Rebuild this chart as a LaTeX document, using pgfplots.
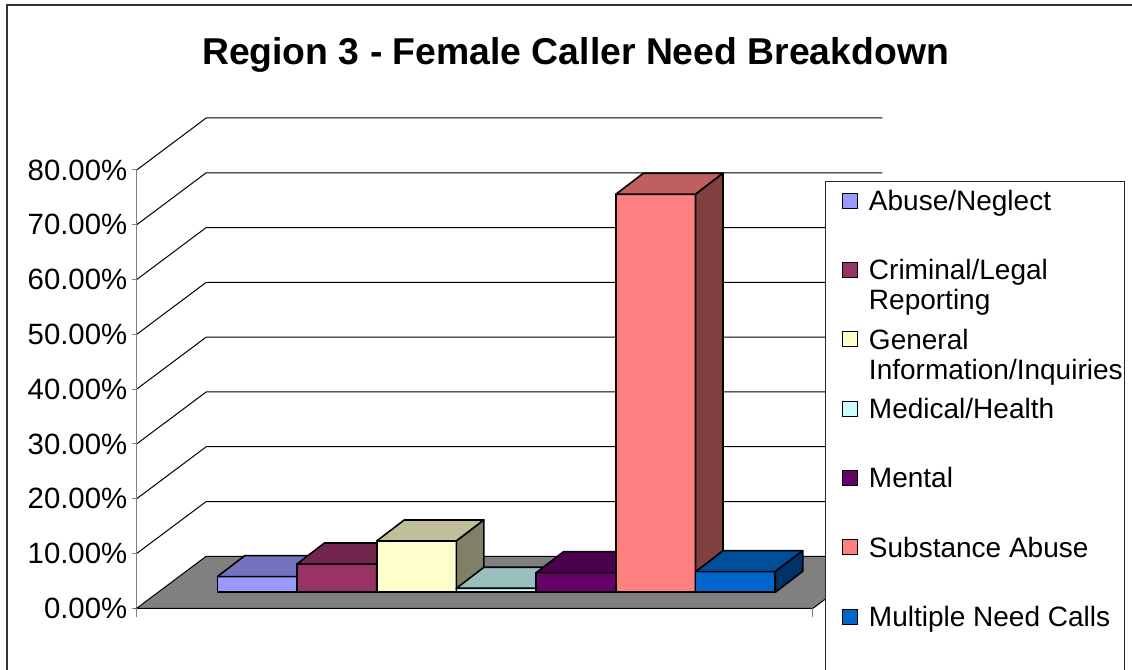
\documentclass[border=0pt]{standalone}
\usepackage{pgfplots}
\pgfplotsset{compat=1.18}
\usepackage{fontspec}
\setmainfont{Liberation Sans}
\definecolor{abF}{RGB}{153,153,255}
\definecolor{abT}{RGB}{115,115,191}
\definecolor{abS}{RGB}{77,77,128}
\definecolor{crF}{RGB}{153,51,102}
\definecolor{crT}{RGB}{115,38,77}
\definecolor{crS}{RGB}{77,26,51}
\definecolor{geF}{RGB}{255,255,204}
\definecolor{geT}{RGB}{191,191,153}
\definecolor{geS}{RGB}{128,128,102}
\definecolor{meF}{RGB}{204,255,255}
\definecolor{meT}{RGB}{153,191,191}
\definecolor{meS}{RGB}{102,128,128}
\definecolor{mnF}{RGB}{102,0,102}
\definecolor{mnT}{RGB}{77,0,77}
\definecolor{mnS}{RGB}{51,0,51}
\definecolor{suF}{RGB}{255,128,128}
\definecolor{suT}{RGB}{191,96,96}
\definecolor{suS}{RGB}{128,64,64}
\definecolor{muF}{RGB}{0,102,204}
\definecolor{muT}{RGB}{0,77,153}
\definecolor{muS}{RGB}{0,51,102}
\definecolor{floorgray}{RGB}{128,128,128}
% bar baseline (depth offset of bar front), bar depth offsets
\newcommand{\vz}{2.92}
\newcommand{\du}{0.345}
\newcommand{\dv}{3.833}
% #1 index, #2 value, #3 front colour, #4 top colour, #5 side colour
\newcommand{\barbox}[5]{%
  \pgfmathsetmacro{\xa}{#1}%
  \pgfmathsetmacro{\xb}{#1+1}%
  \pgfmathsetmacro{\xc}{#1+1+\du}%
  \pgfmathsetmacro{\xd}{#1+\du}%
  \pgfmathsetmacro{\ya}{\vz}%
  \pgfmathsetmacro{\yb}{\vz+#2}%
  \pgfmathsetmacro{\yc}{\vz+\dv}%
  \pgfmathsetmacro{\yd}{\vz+#2+\dv}%
  \addplot[forget plot, fill=#3, draw=black, line width=1.2pt, line join=round]
    coordinates {(\xa,\ya) (\xb,\ya) (\xb,\yb) (\xa,\yb)} -- cycle;
  \addplot[forget plot, fill=#4, draw=black, line width=1.2pt, line join=round]
    coordinates {(\xa,\yb) (\xb,\yb) (\xc,\yd) (\xd,\yd)} -- cycle;
  \addplot[forget plot, fill=#5, draw=black, line width=1.2pt, line join=round]
    coordinates {(\xb,\ya) (\xc,\yc) (\xc,\yd) (\xb,\yb)} -- cycle;
}
\begin{document}
\begin{tikzpicture}
\begin{axis}[
  width=849pt, height=502.5pt, scale only axis,
  xmin=-2.7265, xmax=11.4768, ymin=-11.261, ymax=111.024,
  axis line style={draw=none}, tick style={draw=none},
  xtick=\empty, ytick={0,10,...,80},
  yticklabel={\pgfmathprintnumber[fixed,fixed zerofill,precision=2,assume math mode=true]{\tick}\%},
  yticklabel style={anchor=east, inner sep=0pt, xshift=95.6pt, font=\fontsize{22}{26}\selectfont},
  title={Region 3 - Female Caller Need Breakdown},
  title style={at={(axis description cs:0.5084,0.9030)}, anchor=base, yshift=-6pt, inner sep=0pt, font=\bfseries\fontsize{28}{34}\selectfont},
  legend image code/.code={\path (0pt,0pt); \draw[#1, line width=0.75pt] (11pt,-5.6pt) rectangle (22.2pt,5.6pt);},
  legend style={
    at={(axis description cs:0.7288,0.7299)}, anchor=north west,
    draw=black!85, line width=0.9pt, fill=white,
    font=\fontsize{21}{22.5}\selectfont,
    inner xsep=1.5pt, inner ysep=2.8pt,
    row sep=29pt, column sep=8pt,
    nodes={inner sep=0pt, text height=19pt, text depth=4pt},
    cells={anchor=west},
  },
]
% back wall gridlines with diagonals on the side wall
\addplot[forget plot, black, line width=0.75pt] coordinates {(-1.0113,10) (-0.1393,19.491) (8.346,19.491)};
\addplot[forget plot, black, line width=0.75pt] coordinates {(-1.0113,20) (-0.1393,29.491) (8.346,29.491)};
\addplot[forget plot, black, line width=0.75pt] coordinates {(-1.0113,30) (-0.1393,39.491) (8.346,39.491)};
\addplot[forget plot, black, line width=0.75pt] coordinates {(-1.0113,40) (-0.1393,49.491) (8.346,49.491)};
\addplot[forget plot, black, line width=0.75pt] coordinates {(-1.0113,50) (-0.1393,59.491) (8.346,59.491)};
\addplot[forget plot, black, line width=0.75pt] coordinates {(-1.0113,60) (-0.1393,69.491) (8.346,69.491)};
\addplot[forget plot, black, line width=0.75pt] coordinates {(-1.0113,70) (-0.1393,79.491) (8.346,79.491)};
\addplot[forget plot, black, line width=0.75pt] coordinates {(-1.0113,80) (-0.1393,89.491) (8.346,89.491)};
% front value axis and its ticks
\addplot[forget plot, draw=gray, line width=0.75pt] coordinates {(-1.0113,0) (-1.0113,80)};
\pgfplotsinvokeforeach{0,10,...,80}{
  \addplot[forget plot, draw=gray, line width=0.75pt] coordinates {(-1.074,#1) (-1.0113,#1)};
}
% floor
\addplot[forget plot, fill=floorgray, draw=black, line width=0.75pt] coordinates {(-1.0113,0) (7.474,0) (8.346,9.491) (-0.1393,9.491)} -- cycle;
\addplot[forget plot, draw=gray, line width=0.75pt] coordinates {(-1.0113,0) (-1.0113,-1.59)};
\addplot[forget plot, draw=gray, line width=0.75pt] coordinates {(7.474,0) (7.474,-1.59)};
% bars (percent values)
\barbox{0}{2.85}{abF}{abT}{abS}
\barbox{1}{5.17}{crF}{crT}{crS}
\barbox{2}{9.36}{geF}{geT}{geS}
\barbox{3}{0.73}{meF}{meT}{meS}
\barbox{4}{3.58}{mnF}{mnT}{mnS}
\barbox{5}{72.64}{suF}{suT}{suS}
\barbox{6}{3.76}{muF}{muT}{muS}
% chart area frame
\addplot[forget plot, draw=black!80, line width=1.5pt] coordinates {(-2.6424,-20) (-2.6424,110.11) (13,110.11)};
% legend
\addlegendimage{fill=abF, draw=black}\addlegendentry{Abuse/Neglect}
\addlegendimage{fill=crF, draw=black}\addlegendentry{\vtop{\hbox{Criminal/Legal}\hbox{Reporting}}}
\addlegendimage{fill=geF, draw=black}\addlegendentry{\vtop{\hbox{General}\hbox{Information/Inquiries}}}
\addlegendimage{fill=meF, draw=black}\addlegendentry{Medical/Health}
\addlegendimage{fill=mnF, draw=black}\addlegendentry{Mental}
\addlegendimage{fill=suF, draw=black}\addlegendentry{Substance Abuse}
\addlegendimage{fill=muF, draw=black}\addlegendentry{Multiple Need Calls}
\addlegendimage{empty legend}\addlegendentry{}
\end{axis}
\pgfresetboundingbox
\useasboundingbox (current axis.south west) rectangle (current axis.north east);
\end{tikzpicture}
\end{document}
